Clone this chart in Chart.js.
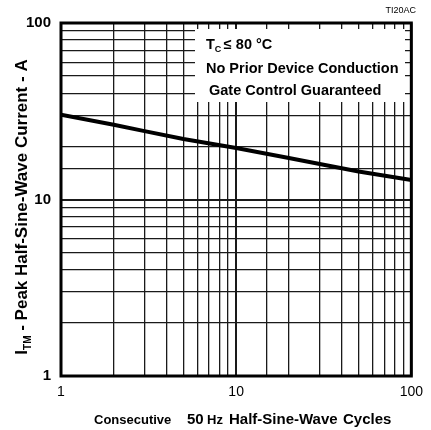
<!DOCTYPE html>
<html>
<head>
<meta charset="utf-8">
<script src="https://cdn.jsdelivr.net/npm/chart.js@4.4.4/dist/chart.umd.min.js"></script>
<style>
  html, body { margin: 0; padding: 0; background: #fff; }
  #wrap { width: 431px; height: 430px; position: relative; }
</style>
</head>
<body>
<div id="wrap"><canvas id="chart" width="431" height="430"></canvas></div>
<script>
// surge current vs number of cycles
const cycles = [1, 2, 3, 5, 10, 20, 30, 50, 100]
const peakCurrent = [30.2, 26.5, 24.4, 22, 19.6, 17.2, 15.9, 14.4, 12.9]
const majorTicks = [1, 10, 100]
const noteLines = ["No Prior Device Conduction", "Gate Control Guaranteed"]

const FONT = "'Liberation Sans', Arial, sans-serif"

function gridColor(ctx) {
    return "#1a1a1a"
}
function gridWidth(ctx) {
    const v = ctx.tick && ctx.tick.value
    if (v === 10) return 2
    return 1.3
}

// white note box with the test conditions
const notePlugin = {
    id: "noteBox",
    beforeDatasetsDraw(chart) {
        const c = chart.ctx
        c.save()
        c.fillStyle = "#fff"
        c.fillRect(195, 29, 210, 73)
        c.fillStyle = "#000"
        c.textBaseline = "alphabetic"
        c.font = "bold 14.5px " + FONT
        c.fillText("T", 206, 49)
        const tw = c.measureText("T").width
        c.font = "bold 9px " + FONT
        c.fillText("C", 206 + tw, 52)
        c.font = "bold 14.5px " + FONT
        c.fillText("\u2264 80 \u00B0C", 206 + tw + 9, 49)
        c.fillText(noteLines[0], 206, 73)
        c.fillText(noteLines[1], 209, 95)
        c.restore()
    },
    afterDraw(chart) {
        const c = chart.ctx
        const a = chart.chartArea
        c.save()
        // frame
        c.strokeStyle = "#000"
        c.lineWidth = 3
        c.strokeRect(a.left, a.top, a.right - a.left, a.bottom - a.top)
        // figure id
        c.fillStyle = "#000"
        c.font = "9px " + FONT
        c.textAlign = "right"
        c.fillText("TI20AC", 416, 13)
        // x title, mixed weights
        c.textAlign = "left"
        const parts = [
            ["bold 13px " + FONT, "Consecutive", 94],
            ["bold 15px " + FONT, "50", 187],
            ["bold 13px " + FONT, "Hz", 207],
            ["bold 15px " + FONT, "Half-Sine-Wave", 229],
            ["bold 15px " + FONT, "Cycles", 343]
        ]
        parts.forEach(p => {
            c.font = p[0]
            c.fillText(p[1], p[2], 424)
        })
        // y title, rotated, with subscript
        c.translate(27, 207)
        c.rotate(-Math.PI / 2)
        const big = "bold 17px " + FONT
        const small = "bold 10px " + FONT
        const main = " - Peak Half-Sine-Wave Current - A"
        c.font = big
        const wI = c.measureText("I").width
        const wMain = c.measureText(main).width
        c.font = small
        const wTM = c.measureText("TM").width
        let x0 = -(wI + wTM + wMain) / 2
        c.font = big
        c.fillText("I", x0, 0)
        c.font = small
        c.fillText("TM", x0 + wI, 4)
        c.font = big
        c.fillText(main, x0 + wI + wTM, 0)
        c.restore()
    }
}

new Chart(document.getElementById("chart"), {
    type: "line",
    data: {
        datasets: [{
            data: cycles.map((x, i) => ({ x: x, y: peakCurrent[i] })),
            borderColor: "#000",
            borderWidth: 4,
            pointRadius: 0,
            tension: 0,
            fill: false
        }]
    },
    options: {
        responsive: false,
        animation: false,
        layout: { padding: { left: 0, top: 23, right: 12, bottom: 0 } },
        plugins: {
            legend: { display: false },
            tooltip: { enabled: false }
        },
        scales: {
            x: {
                type: "logarithmic",
                min: 1,
                max: 100,
                grid: { color: gridColor, lineWidth: gridWidth, drawTicks: false },
                border: { display: false },
                afterFit(s) { s.height = 54 },
                ticks: {
                    color: "#000",
                    padding: 8,
                    maxRotation: 0,
                    autoSkip: false,
                    font: { family: FONT, size: 14, weight: "normal" },
                    callback: v => majorTicks.includes(v) ? String(v) : ""
                }
            },
            y: {
                type: "logarithmic",
                min: 1,
                max: 100,
                grid: { color: gridColor, lineWidth: gridWidth, drawTicks: false },
                border: { display: false },
                afterFit(s) { s.width = 61 },
                ticks: {
                    color: "#000",
                    padding: 10,
                    autoSkip: false,
                    font: { family: FONT, size: 15, weight: "bold" },
                    callback: v => majorTicks.includes(v) ? String(v) : ""
                }
            }
        }
    },
    plugins: [notePlugin]
})
</script>
</body>
</html>
